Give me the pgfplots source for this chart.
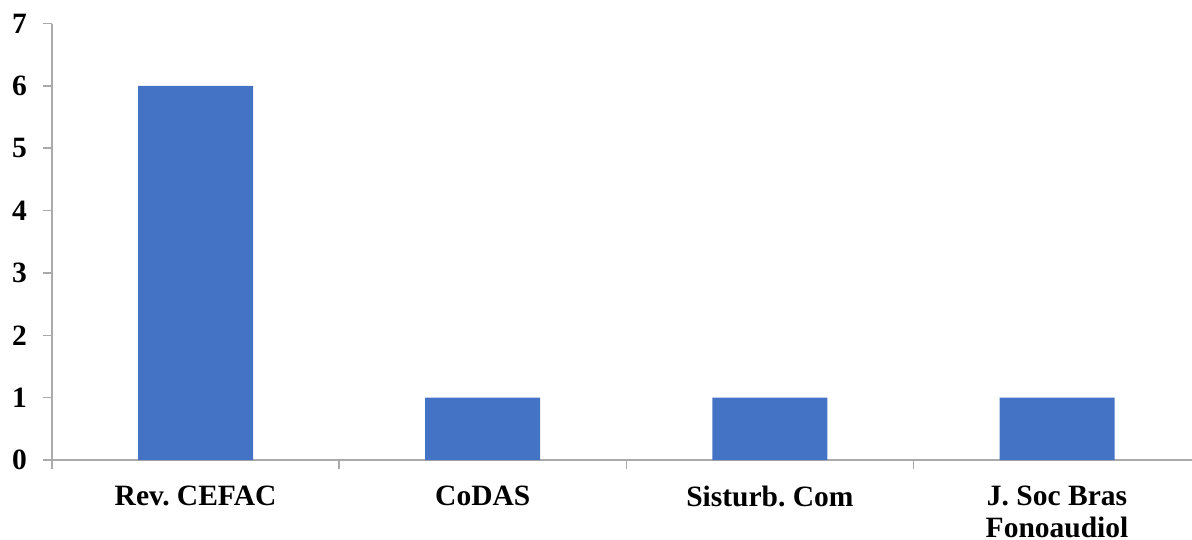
\documentclass[border=0pt]{standalone}
\usepackage{pgfplots}
\pgfplotsset{compat=1.18}
\usepackage{fontspec}
\setmainfont{Liberation Serif}
\frenchspacing
\definecolor{barblue}{HTML}{4472C4}
\definecolor{axgray}{RGB}{170,170,170}
\begin{document}
\begin{tikzpicture}
\path[use as bounding box] (-52pt,-79pt) rectangle (1140pt,460pt);
\begin{axis}[
  scale only axis,
  width=1140pt, height=436.5pt,
  anchor=south west, at={(0pt,0pt)},
  xmin=-0.5, xmax=3.47,
  ymin=0, ymax=7,
  axis x line=bottom, axis y line=left,
  axis line style={-, draw=axgray, line width=1.5pt},
  every tick/.style={draw=axgray, line width=1.5pt},
  tick align=outside,
  major tick length=9pt,
  xtick={0,1,2,3},
  xticklabels={Rev.\ CEFAC, CoDAS, Sisturb.\ Com, {J.\ Soc Bras\\Fonoaudiol}},
  major x tick style={draw=none},
  extra x ticks={-0.5,0.5,1.5,2.5,3.5},
  extra x tick labels={},
  extra x tick style={major x tick style={draw=axgray, line width=1.5pt}},
  ytick={0,1,2,3,4,5,6,7},
  /pgf/number format/assume math mode=true,
  tick label style={font=\fontsize{29.5}{32.5}\selectfont\bfseries\frenchspacing},
  xticklabel style={align=center, inner sep=0pt, yshift=-16.5pt},
  yticklabel style={inner sep=0pt, xshift=-16pt},
  clip=false,
]
\addplot[ybar, bar width=115pt, fill=barblue, draw=none] coordinates {(0,6) (1,1) (2,1) (3,1)};
\end{axis}
\end{tikzpicture}
\end{document}
